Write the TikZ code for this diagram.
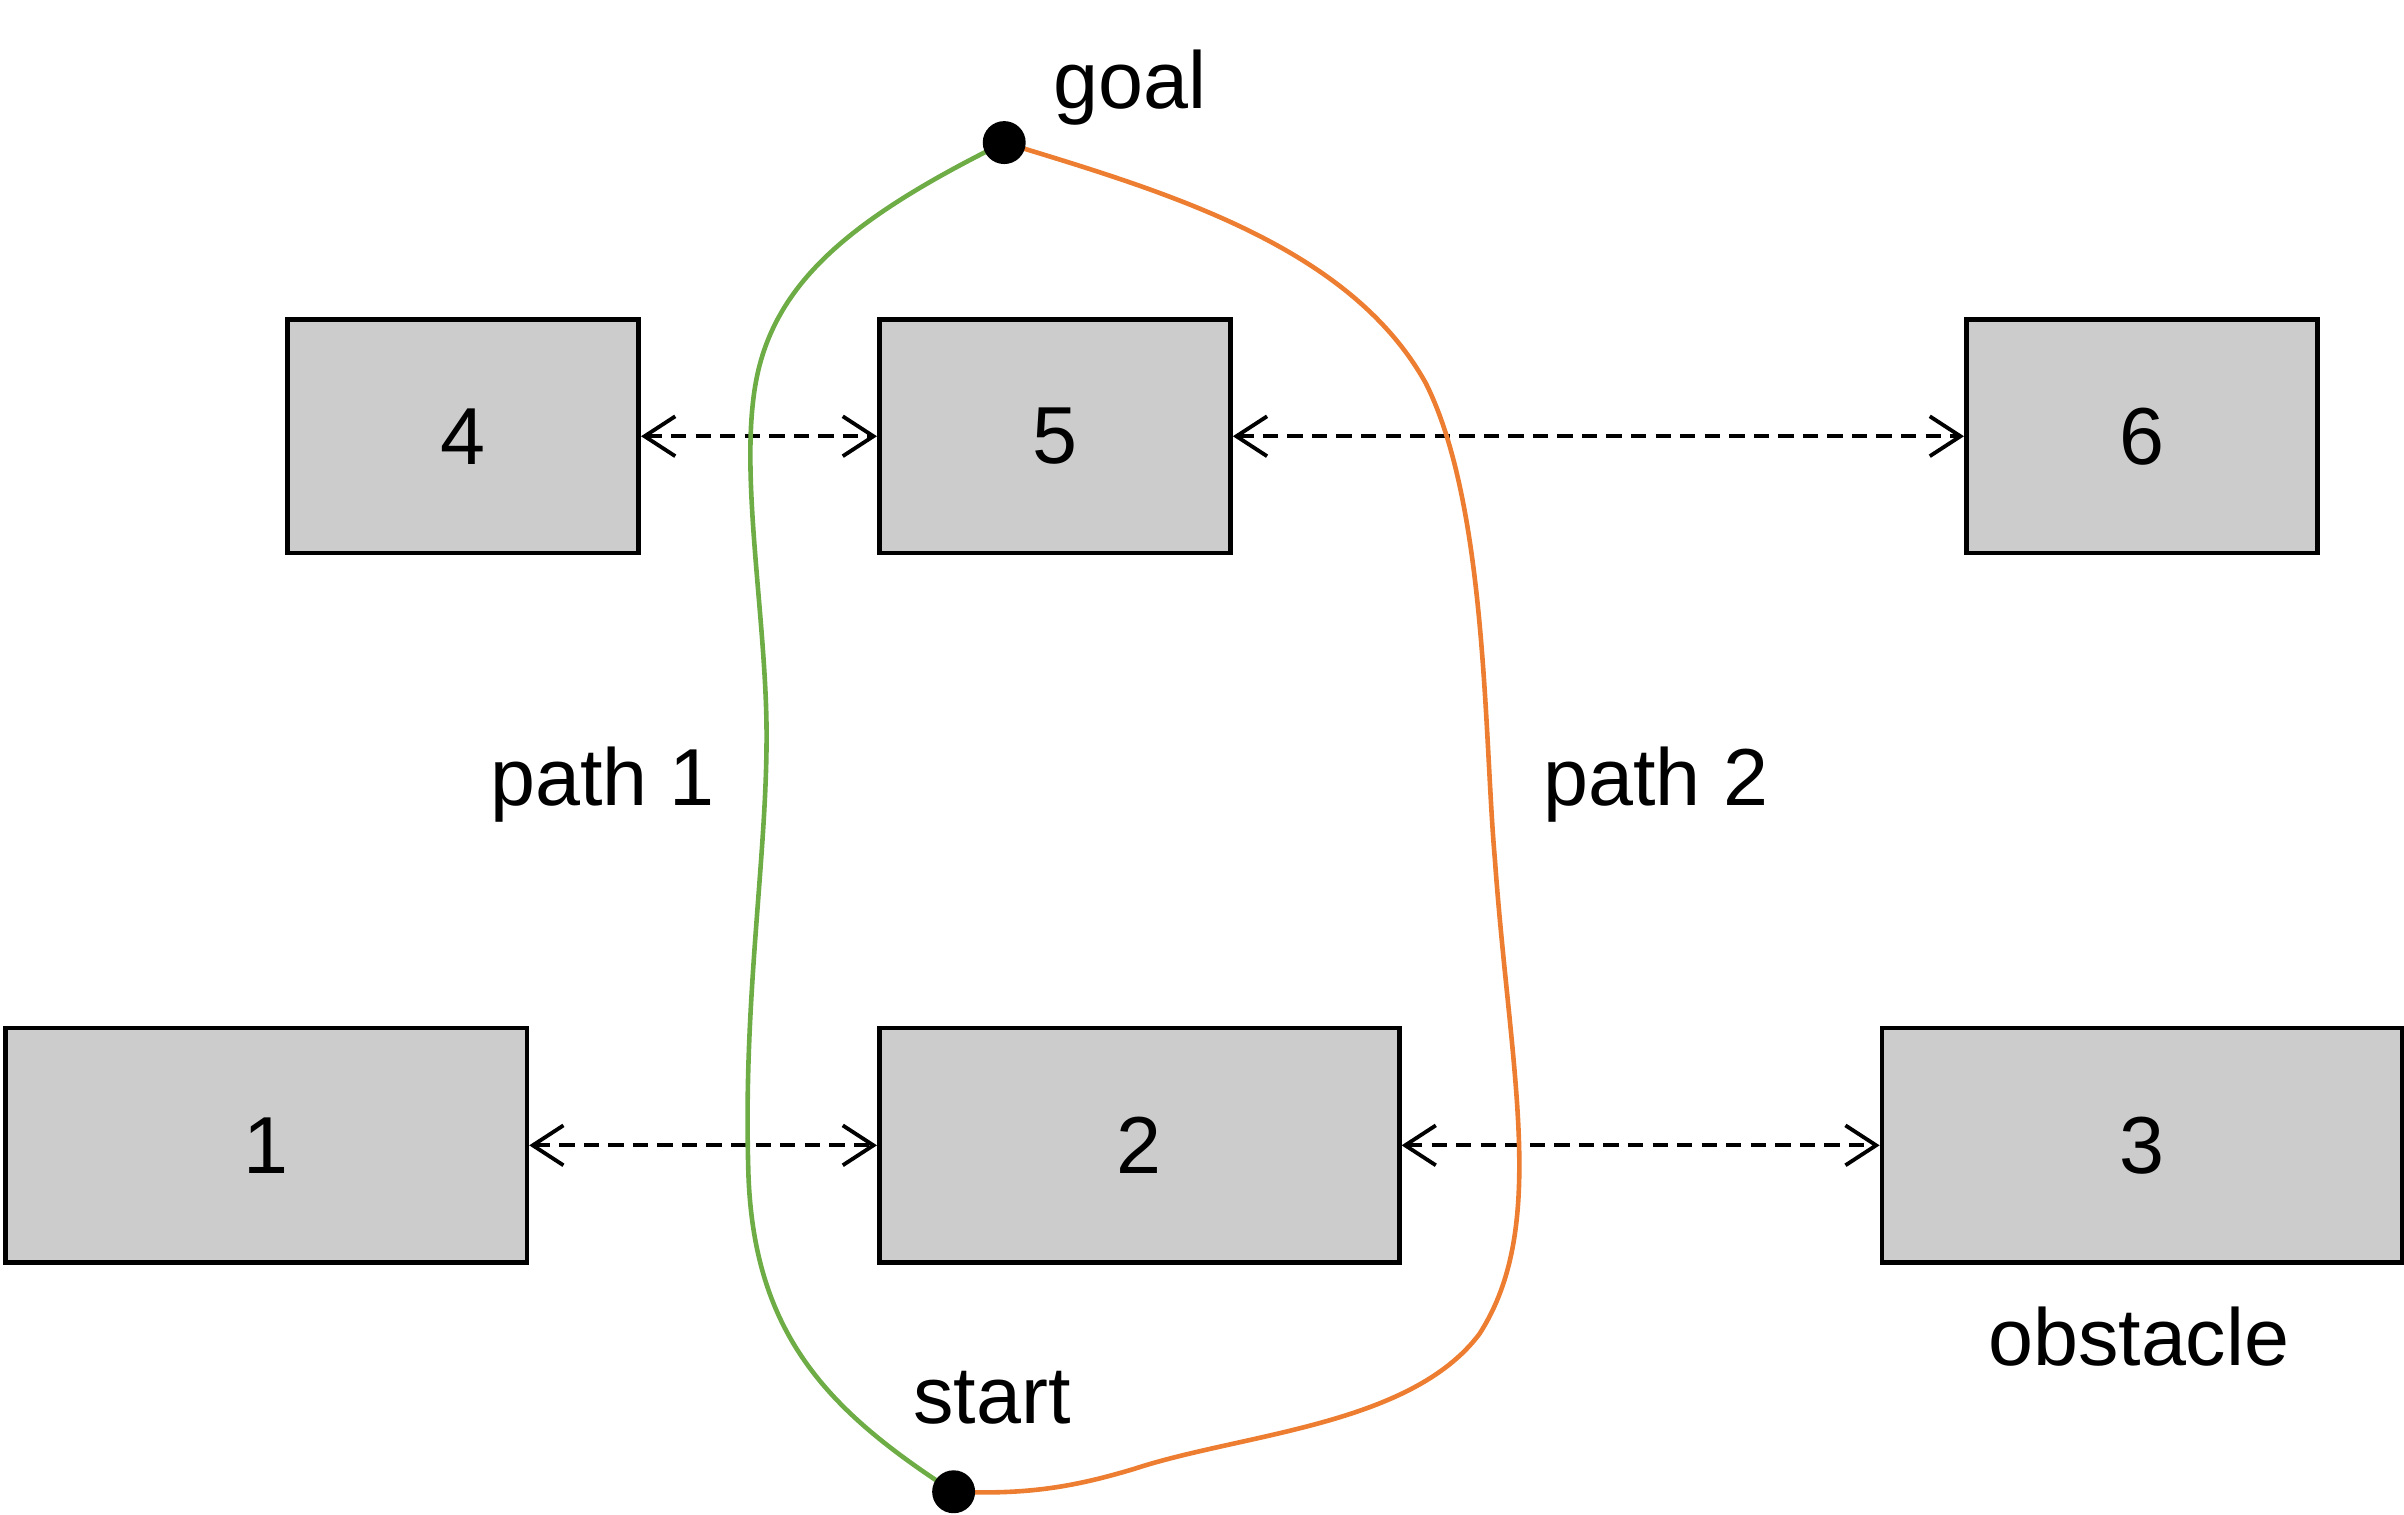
\documentclass[tikz,border=0pt]{standalone}
\usepackage{fontspec}
\setmainfont{Liberation Sans}
\usetikzlibrary{arrows.meta}
\begin{document}
\begin{tikzpicture}[x=0.01cm,y=-0.01cm,
  box/.style={draw,fill=black!20,line width=0.03cm,anchor=north west,inner sep=0pt,font=\fontsize{15}{18}\selectfont},
  lbl/.style={font=\fontsize{15}{18}\selectfont},
  link/.style={dashed,dash pattern=on 0.1cm off 0.06cm,line width=0.025cm,{Straight Barb[length=0.2cm,width=0.26cm]}-{Straight Barb[length=0.2cm,width=0.26cm]}},
  pth/.style={line width=0.03cm}]
\useasboundingbox (0,0) rectangle (1568,988);
\node[box,minimum width=2.29cm,minimum height=1.52cm] (b4) at (186,207) {4};
\node[box,minimum width=2.29cm,minimum height=1.52cm] (b5) at (572,207) {5};
\node[box,minimum width=2.29cm,minimum height=1.52cm] (b6) at (1281,207) {6};
\node[box,minimum width=3.40cm,minimum height=1.53cm] (b1) at (2,669) {1};
\node[box,minimum width=3.39cm,minimum height=1.53cm] (b2) at (572,669) {2};
\node[box,minimum width=3.39cm,minimum height=1.53cm] (b3) at (1226,669) {3};
\draw[link] (b4.east) -- (b5.west);
\draw[link] (b5.east) -- (b6.west);
\draw[link] (b1.east) -- (b2.west);
\draw[link] (b2.east) -- (b3.west);
\coordinate (goal) at (655,93);
\coordinate (start) at (622,973);
\draw[pth,color={rgb,255:red,110;green,172;blue,70}] (goal) .. controls (560,140) and (510,180) .. (495,240)
  .. controls (480,300) and (500,400) .. (500,480)
  .. controls (500,560) and (485,650) .. (488,760)
  .. controls (490,870) and (540,920) .. (start);
\draw[pth,color={rgb,255:red,237;green,125;blue,49}] (goal) .. controls (760,125) and (880,160) .. (930,250)
  .. controls (970,330) and (968,480) .. (975,560)
  .. controls (985,700) and (1010,800) .. (965,870)
  .. controls (920,930) and (810,935) .. (740,958)
  .. controls (700,970) and (670,975) .. (start);
\fill (goal) circle (0.14cm);
\fill (start) circle (0.14cm);
\node[lbl] (tg) at (737,57) {goal};
\node[lbl] (ts) at (647,912) {start};
\node[lbl] (p1) at (393,512) {path 1};
\node[lbl] (p2) at (1080,512) {path 2};
\node[lbl] (ob) at (1395,872) {obstacle};
\end{tikzpicture}
\end{document}
